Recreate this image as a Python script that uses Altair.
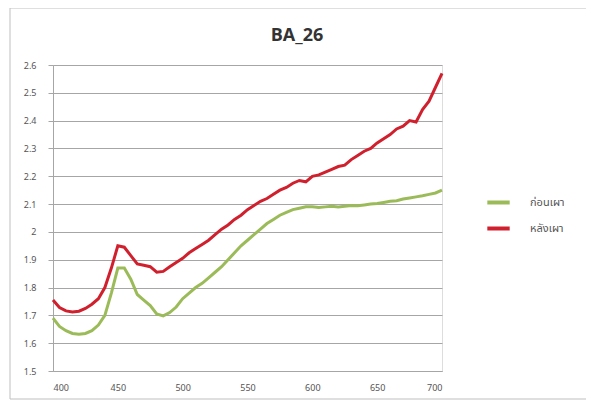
import altair as alt
import pandas as pd

wavelength = [400, 405, 410, 415, 420, 425, 430, 435, 440, 445, 450, 455, 460, 465, 470,
              475, 480, 485, 490, 495, 500, 505, 510, 515, 520, 525, 530, 535, 540, 545,
              550, 555, 560, 565, 570, 575, 580, 585, 590, 595, 600, 605, 610, 615, 620,
              625, 630, 635, 640, 645, 650, 655, 660, 665, 670, 675, 680, 685, 690, 695, 700]

before = [1.690, 1.660, 1.645, 1.635, 1.632, 1.635, 1.645, 1.665, 1.700, 1.780, 1.870, 1.870,
          1.830, 1.775, 1.755, 1.735, 1.705, 1.698, 1.710, 1.730, 1.760, 1.780, 1.800, 1.815,
          1.835, 1.855, 1.875, 1.900, 1.925, 1.950, 1.970, 1.990, 2.010, 2.030, 2.045, 2.060,
          2.070, 2.080, 2.085, 2.090, 2.090, 2.088, 2.090, 2.092, 2.090, 2.092, 2.095, 2.094,
          2.097, 2.100, 2.102, 2.106, 2.110, 2.112, 2.118, 2.122, 2.126, 2.130, 2.135, 2.140, 2.150]

after = [1.755, 1.728, 1.716, 1.712, 1.715, 1.725, 1.740, 1.760, 1.800, 1.870, 1.950, 1.945,
         1.915, 1.885, 1.880, 1.875, 1.855, 1.858, 1.875, 1.890, 1.905, 1.925, 1.940, 1.955,
         1.970, 1.990, 2.010, 2.025, 2.045, 2.060, 2.080, 2.095, 2.110, 2.120, 2.135, 2.150,
         2.160, 2.175, 2.185, 2.180, 2.200, 2.205, 2.215, 2.225, 2.235, 2.240, 2.260, 2.275,
         2.290, 2.300, 2.320, 2.335, 2.350, 2.370, 2.380, 2.400, 2.395, 2.440, 2.470, 2.520, 2.570]

series_names = ["ก่อนเผา", "หลังเผา"]
series_colors = ["#9BBB59", "#D0202E"]
title_text = "BA_26"

rows = []
for w, b, a in zip(wavelength, before, after):
    rows.append({"wl": w, "val": b, "series": series_names[0]})
    rows.append({"wl": w, "val": a, "series": series_names[1]})
df = pd.DataFrame(rows)

W, H = 389, 306
font = "Noto Sans Thai, Noto Sans, DejaVu Sans, sans-serif"

lines = alt.Chart(df).mark_line(strokeWidth=3).encode(
    x=alt.X("wl:Q", scale=alt.Scale(domain=[400, 700], nice=False),
            axis=alt.Axis(values=[400, 450, 500, 550, 600, 650, 700], title=None, grid=False,
                          labelFontSize=9, labelColor="#555555", domainColor="#A6A6A6",
                          tickSize=0, labelPadding=12, labelFont=font)),
    y=alt.Y("val:Q", scale=alt.Scale(domain=[1.5, 2.6], nice=False, zero=False),
            axis=alt.Axis(values=[1.5, 1.6, 1.7, 1.8, 1.9, 2.0, 2.1, 2.2, 2.3, 2.4, 2.5, 2.6],
                          title=None, grid=True, gridColor="#A6A6A6", labelFontSize=9,
                          labelColor="#555555", domainColor="#A6A6A6", tickColor="#A6A6A6",
                          tickSize=5, labelPadding=12, labelFont=font,
                          labelExpr="datum.value == 2 ? '2' : format(datum.value, '.1f')")),
    color=alt.Color("series:N", scale=alt.Scale(domain=series_names, range=series_colors),
                    legend=alt.Legend(title=None, orient="none", legendX=432, legendY=124,
                                      symbolType="stroke", symbolStrokeWidth=4, symbolSize=500,
                                      labelFontSize=11, labelColor="#555555", labelFont=font,
                                      rowPadding=4, labelOffset=18)),
    detail="series:N",
)

border = alt.Chart(pd.DataFrame({"a": [0]})).mark_rect(
    fill="white", fillOpacity=0, stroke="#BFBFBF", strokeWidth=1, clip=False
).encode(x=alt.value(-43), x2=alt.value(W + 150), y=alt.value(-57), y2=alt.value(H + 28))

title = alt.Chart(pd.DataFrame({"t": [title_text]})).mark_text(
    fontSize=18, fontWeight="bold", font="Open Sans", color="#333333",
    align="center", baseline="middle", clip=False
).encode(text="t:N", x=alt.value(244), y=alt.value(-29))

chart = alt.layer(border, lines, title).properties(
    width=W, height=H,
    autosize=alt.AutoSizeParams(type="none"),
    padding={"left": 45, "top": 57, "right": 144, "bottom": 30},
).configure_view(stroke=None).configure(background="white")

chart.save("out.html", embed_options={"renderer": "svg", "actions": False})
